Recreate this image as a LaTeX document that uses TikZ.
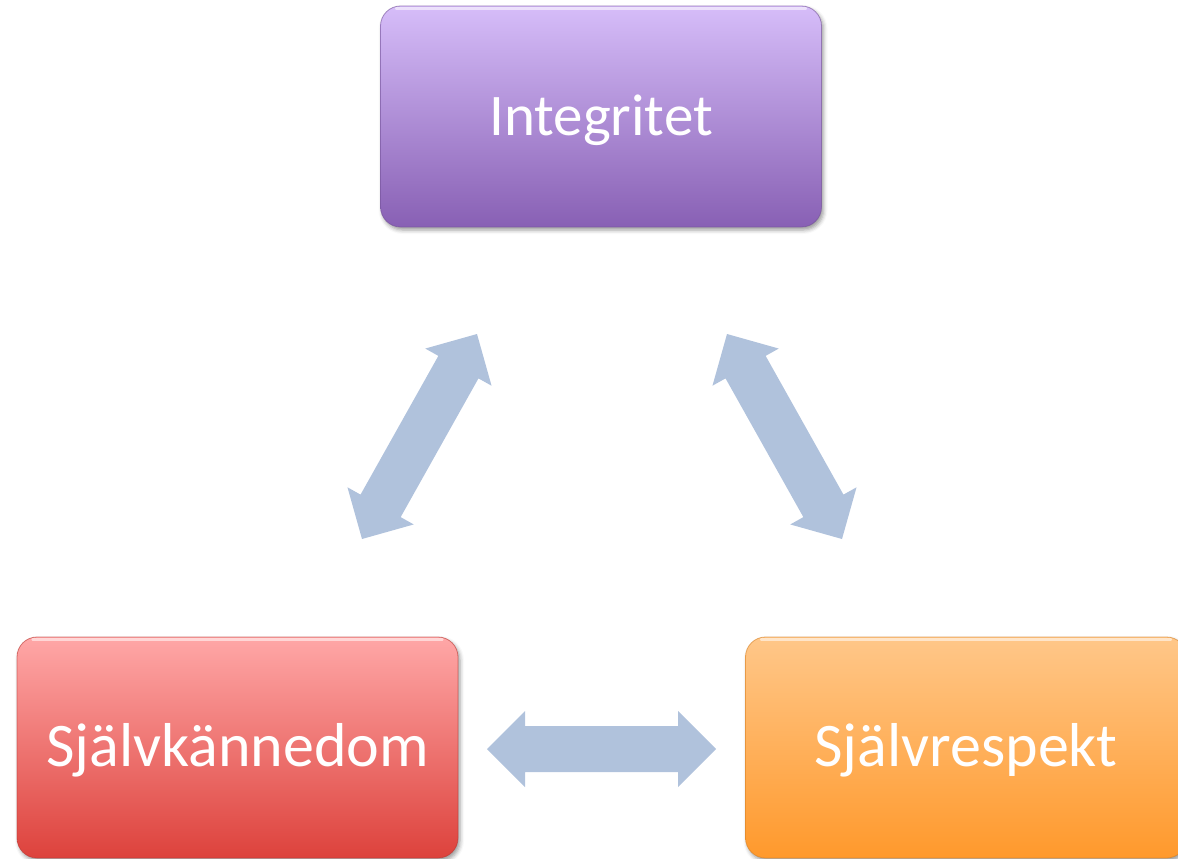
\documentclass[tikz,border=0pt]{standalone}
\usepackage{fontspec}
\setmainfont{Carlito}
\usetikzlibrary{calc,shadows.blur}

\definecolor{violetTop}{HTML}{D6BDF9}
\definecolor{violetBot}{HTML}{8860B4}
\definecolor{redTop}{HTML}{FFA7A7}
\definecolor{redBot}{HTML}{DD423C}
\definecolor{orangeTop}{HTML}{FFC789}
\definecolor{orangeBot}{HTML}{FF992C}
\definecolor{linkBlue}{HTML}{B0C2DC}

\tikzset{
  stepbox/.style={rounded corners=20pt, minimum width=441pt, minimum height=221pt,
    inner sep=0pt, text=white, font=\fontsize{59}{70}\selectfont,
    text height=38pt, text depth=0pt, line width=0.8pt, draw opacity=0.6,
    blur shadow={shadow xshift=2pt, shadow yshift=-3pt,
      shadow blur radius=4pt, shadow opacity=40}},
  bigtext/.style={font=\fontsize{62}{72}\selectfont},
  gloss/.style={white, opacity=0.55, line width=2.5pt, line cap=round},
  linkfill/.style={fill=linkBlue}
}

% thick double-headed arrow between two named tip coordinates
\newcommand\linkarrow[2]{%
  \coordinate (#1base) at ($(#1)!38pt!(#2)$);
  \coordinate (#2base) at ($(#2)!38pt!(#1)$);
  \fill[linkfill] (#1)
    -- ($(#1base)!38pt!90:(#2)$) -- ($(#1base)!23pt!90:(#2)$)
    -- ($(#2base)!23pt!-90:(#1)$) -- ($(#2base)!38pt!-90:(#1)$)
    -- (#2)
    -- ($(#2base)!38pt!90:(#1)$) -- ($(#2base)!23pt!90:(#1)$)
    -- ($(#1base)!23pt!-90:(#2)$) -- ($(#1base)!38pt!-90:(#2)$)
    -- cycle;
}

\begin{document}
\begin{tikzpicture}[x=1pt,y=-1pt]
  \useasboundingbox (0,0) rectangle (1178,859);

  % the three boxes
  \node[stepbox, top color=violetTop, bottom color=violetBot, draw=violetBot!85!black]
    (integ) at (601,116.5) {Integritet};
  \node[stepbox, bigtext, top color=redTop, bottom color=redBot, draw=redBot!85!black]
    (kann) at (237.5,747.5) {Självkännedom};
  \node[stepbox, bigtext, top color=orangeTop, bottom color=orangeBot, draw=orangeBot!85!black]
    (resp) at (966,747.5) {Självrespekt};

  % glossy highlight along the top edges
  \foreach \b in {integ,kann,resp}{
    \draw[gloss] ([xshift=16pt,yshift=-3pt]\b.north west) -- ([xshift=-16pt,yshift=-3pt]\b.north east);
  }

  % arrow tips
  \coordinate (lt) at (477,334);
  \coordinate (lb) at (362,539);
  \coordinate (rt) at (727,334);
  \coordinate (rb) at (842,539);
  \coordinate (hl) at (487,749);
  \coordinate (hr) at (716,749);

  \linkarrow{lt}{lb}
  \linkarrow{rt}{rb}
  \linkarrow{hl}{hr}
\end{tikzpicture}
\end{document}
